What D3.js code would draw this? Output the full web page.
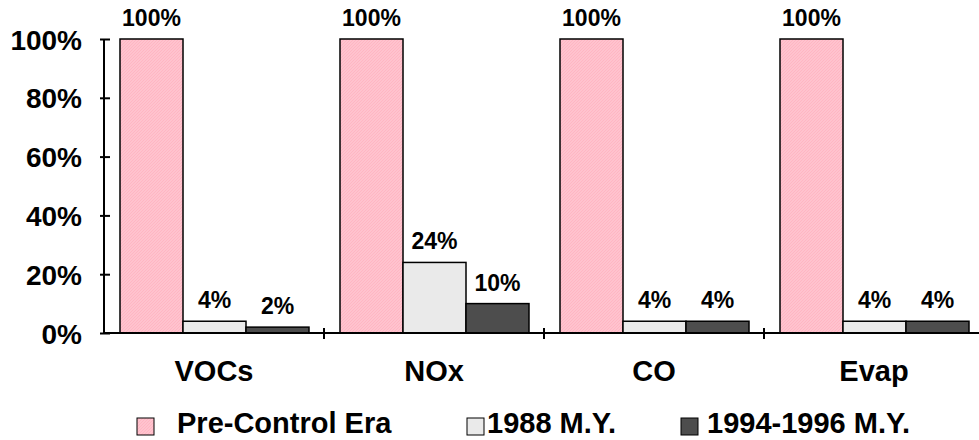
<!DOCTYPE html>
<html>
<head>
<meta charset="utf-8">
<script src="https://cdn.jsdelivr.net/npm/d3@7/dist/d3.min.js"></script>
<style>
  html, body { margin: 0; padding: 0; background: #fff; }
  svg { display: block; font-family: Arial, "Liberation Sans", Helvetica, sans-serif; font-weight: bold; }
</style>
</head>
<body>
<svg id="chart" width="979" height="440"></svg>
<script>
const categories = ["VOCs", "NOx", "CO", "Evap"];
const seriesNames = ["Pre-Control Era", "1988 M.Y.", "1994-1996 M.Y."];
const preControl = [1.00, 1.00, 1.00, 1.00];
const my1988 = [0.04, 0.24, 0.04, 0.04];
const my1994 = [0.02, 0.10, 0.04, 0.04];
const yTicks = [0, 0.2, 0.4, 0.6, 0.8, 1.0];

const seriesValues = [preControl, my1988, my1994];
const fills = ["url(#pinkHatch)", "#EAEAEA", "#4D4D4D"];

const svg = d3.select("#chart");
const defs = svg.append("defs");
const pat = defs.append("pattern")
  .attr("id", "pinkHatch").attr("patternUnits", "userSpaceOnUse")
  .attr("width", 3).attr("height", 3);
pat.append("rect").attr("width", 3).attr("height", 3).attr("fill", "#FFC3CE");
pat.append("path").attr("d", "M-1,1 l2,-2 M0,3 l3,-3 M2,4 l2,-2")
  .attr("stroke", "#FFB2C0").attr("stroke-width", 0.8);

const x0 = d3.scaleBand().domain(categories).range([104, 984]).paddingInner(0).paddingOuter(0);
const x1 = d3.scaleBand().domain(seriesNames).range([16, 205]);
const y = d3.scaleLinear().domain([0, 1]).range([333, 39]);

// Bars
const groups = svg.append("g").selectAll("g")
  .data(categories).join("g")
  .attr("transform", d => `translate(${x0(d)},0)`);

groups.selectAll("rect")
  .data((c, i) => seriesNames.map((s, k) => ({ s, k, v: seriesValues[k][i] })))
  .join("rect")
  .attr("x", d => x1(d.s))
  .attr("y", d => y(d.v))
  .attr("width", x1.bandwidth())
  .attr("height", d => y(0) - y(d.v))
  .attr("fill", d => fills[d.k])
  .attr("stroke", "#000")
  .attr("stroke-width", 1.5);

groups.selectAll("text.val")
  .data((c, i) => seriesNames.map((s, k) => ({ s, k, v: seriesValues[k][i] })))
  .join("text")
  .attr("class", "val")
  .attr("x", d => x1(d.s) + x1.bandwidth() / 2)
  .attr("y", d => y(d.v) - 13)
  .attr("text-anchor", "middle")
  .attr("font-size", 23)
  .attr("fill", "#000")
  .text(d => Math.round(d.v * 100) + "%");

// Y axis
const yAxis = svg.append("g").attr("transform", "translate(104,0)")
  .call(d3.axisLeft(y).tickValues(yTicks).tickFormat(d3.format(".0%")).tickSize(4).tickPadding(18));
yAxis.select(".domain").attr("stroke", "#000").attr("stroke-width", 2)
  .attr("d", `M0,${y(1)}V${y(0)}`);
yAxis.selectAll(".tick line").attr("x1", -4).attr("x2", 6).attr("stroke", "#000").attr("stroke-width", 2);
yAxis.selectAll(".tick text").attr("font-size", 28).attr("font-weight", "bold")
  .attr("font-family", "Arial, 'Liberation Sans', sans-serif").attr("fill", "#000").attr("dy", "0.36em");

// X axis
const xAxis = svg.append("g").attr("transform", "translate(0,333)")
  .call(d3.axisBottom(x0).tickSize(0).tickPadding(27));
xAxis.select(".domain").attr("stroke", "#000").attr("stroke-width", 2).attr("d", "M104,0H979");
xAxis.selectAll(".tick text").attr("font-size", 29).attr("font-weight", "bold")
  .attr("font-family", "Arial, 'Liberation Sans', sans-serif").attr("fill", "#000");
xAxis.selectAll("line.bound")
  .data(categories.slice(0, -1)).join("line")
  .attr("class", "bound")
  .attr("x1", d => x0(d) + x0.bandwidth()).attr("x2", d => x0(d) + x0.bandwidth())
  .attr("y1", -5).attr("y2", 6)
  .attr("stroke", "#000").attr("stroke-width", 2);

// Legend
const legendPos = [{ sx: 137, tx: 177 }, { sx: 467, tx: 487 }, { sx: 681, tx: 707 }];
const legend = svg.append("g").selectAll("g").data(seriesNames).join("g");
legend.append("rect")
  .attr("x", (d, i) => legendPos[i].sx).attr("y", 418)
  .attr("width", 17).attr("height", 17)
  .attr("fill", (d, i) => fills[i]).attr("stroke", "#000").attr("stroke-width", 1);
legend.append("text")
  .attr("x", (d, i) => legendPos[i].tx).attr("y", 433)
  .attr("font-size", 29).attr("fill", "#000")
  .text(d => d);
</script>
</body>
</html>
